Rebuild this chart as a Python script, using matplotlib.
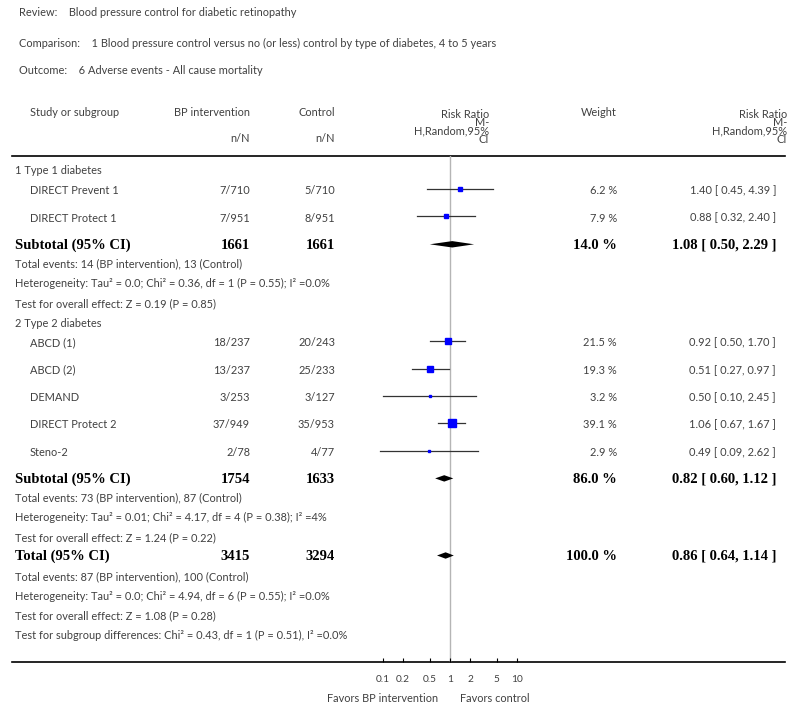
import numpy as np
import matplotlib.pyplot as plt

# datos del forest plot
review = 'Blood pressure control for diabetic retinopathy'
comparison = '1 Blood pressure control versus no (or less) control by type of diabetes, 4 to 5 years'
outcome = '6 Adverse events - All cause mortality'

groups = ['1 Type 1 diabetes', '2 Type 2 diabetes']
study_group = [0, 0, 1, 1, 1, 1, 1]
studies = ['DIRECT Prevent 1', 'DIRECT Protect 1', 'ABCD (1)', 'ABCD (2)',
           'DEMAND', 'DIRECT Protect 2', 'Steno-2']
bp_events = [7, 7, 18, 13, 3, 37, 2]
bp_total = [710, 951, 237, 237, 253, 949, 78]
ctrl_events = [5, 8, 20, 25, 3, 35, 4]
ctrl_total = [710, 951, 243, 233, 127, 953, 77]
weights = [6.2, 7.9, 21.5, 19.3, 3.2, 39.1, 2.9]
rr = [1.40, 0.88, 0.92, 0.51, 0.50, 1.06, 0.49]
rr_lo = [0.45, 0.32, 0.50, 0.27, 0.10, 0.67, 0.09]
rr_hi = [4.39, 2.40, 1.70, 0.97, 2.45, 1.67, 2.62]

sub_bp_total = [1661, 1754]
sub_ctrl_total = [1661, 1633]
sub_weight = [14.0, 86.0]
sub_rr = [1.08, 0.82]
sub_lo = [0.50, 0.60]
sub_hi = [2.29, 1.12]
sub_stats = [
    ['Total events: 14 (BP intervention), 13 (Control)',
     'Heterogeneity: Tau² = 0.0; Chi² = 0.36, df = 1 (P = 0.55); I² =0.0%',
     'Test for overall effect: Z = 0.19 (P = 0.85)'],
    ['Total events: 73 (BP intervention), 87 (Control)',
     'Heterogeneity: Tau² = 0.01; Chi² = 4.17, df = 4 (P = 0.38); I² =4%',
     'Test for overall effect: Z = 1.24 (P = 0.22)'],
]

tot_bp = 3415
tot_ctrl = 3294
tot_weight = 100.0
tot_rr, tot_lo, tot_hi = 0.86, 0.64, 1.14
tot_stats = ['Total events: 87 (BP intervention), 100 (Control)',
             'Heterogeneity: Tau² = 0.0; Chi² = 4.94, df = 6 (P = 0.55); I² =0.0%',
             'Test for overall effect: Z = 1.08 (P = 0.28)',
             'Test for subgroup differences: Chi² = 0.43, df = 1 (P = 0.51), I² =0.0%']

ticks = [0.1, 0.2, 0.5, 1, 2, 5, 10]
tick_labels = ['0.1', '0.2', '0.5', '1', '2', '5', '10']

# estilos
gris = '#404040'
sans = 'Lato'
serif = 'Liberation Serif'
fs = 7.9
fsb = 10.5

fig = plt.figure(figsize=(8, 7.09), dpi=100)
ax = fig.add_axes([0, 0, 1, 1])
ax.set_xlim(0, 800)
ax.set_ylim(709, 0)
ax.axis('off')

top_line, bot_line = 156, 662
decada = 67
ax_f = fig.add_axes([350 / 800, (709 - bot_line) / 709, 200 / 800, (bot_line - top_line) / 709])
ax_f.set_xscale('log')
ax_f.set_xlim(10 ** (-100 / decada), 10 ** (100 / decada))
ax_f.set_ylim(bot_line, top_line)
ax_f.patch.set_visible(False)
for s in ax_f.spines.values():
    s.set_visible(False)
ax_f.set_yticks([])
ax_f.set_xticks(ticks)
ax_f.set_xticklabels(tick_labels, fontfamily=sans, fontsize=7.3, color=gris)
ax_f.minorticks_off()
ax_f.tick_params(axis='x', direction='in', length=3, width=0.8, pad=9, color='black')
ax_f.axvline(1, color='#b5b5b5', lw=1, zorder=0)


def t(x, y, s, ha='left', bold=False, **kw):
    if bold:
        ax.text(x, y, s, ha=ha, va='center', fontfamily=serif, fontweight='bold',
                fontsize=fsb, color='black', **kw)
    else:
        ax.text(x, y, s, ha=ha, va='center', fontfamily=sans, fontsize=fs, color=gris, **kw)


# cabecera
t(19, 13, 'Review:    ' + review)
t(19, 43, 'Comparison:    ' + comparison)
t(19, 71, 'Outcome:    ' + outcome)

t(30, 113, 'Study or subgroup')
t(250, 113, 'BP intervention', ha='right')
t(335, 113, 'Control', ha='right')
t(250, 139, 'n/N', ha='right')
t(335, 139, 'n/N', ha='right')
t(617, 113, 'Weight', ha='right')
encabezado_rr = 'Risk Ratio\nM-\nH,Random,95%\nCI'
for xr in [489, 787]:
    ax.text(xr, 127, encabezado_rr, ha='right', va='center', multialignment='right',
            linespacing=0.72, fontfamily=sans, fontsize=fs, color=gris)

ax.axhline(top_line, xmin=12 / 800, xmax=785 / 800, color='black', lw=1.2)
ax.axhline(bot_line, xmin=12 / 800, xmax=785 / 800, color='black', lw=1.2)


def diamante(y, est, lo, hi, h):
    ax_f.fill([lo, est, hi, est], [y, y - h, y, y + h], color='black', lw=0)


# filas
y = 171
pasos = {'group': 19.7, 'study': 27.3, 'subtotal': 18.5, 'stat': 19.8, 'total': 20}
for g, gname in enumerate(groups):
    t(15, y, gname)
    y += pasos['group']
    idx = [i for i, sg in enumerate(study_group) if sg == g]
    for i in idx:
        t(30, y, studies[i])
        t(250, y, f'{bp_events[i]}/{bp_total[i]}', ha='right')
        t(335, y, f'{ctrl_events[i]}/{ctrl_total[i]}', ha='right')
        t(617, y, f'{weights[i]:.1f} %', ha='right')
        t(776, y, f'{rr[i]:.2f} [ {rr_lo[i]:.2f}, {rr_hi[i]:.2f} ]', ha='right')
        ym = y - 1.5
        ax_f.plot([rr_lo[i], rr_hi[i]], [ym, ym], color='#333333', lw=0.9, clip_on=False)
        ax_f.plot(rr[i], ym, 's', color='#0000ff', mec='#0000ff',
                  ms=0.9 * np.sqrt(weights[i]), clip_on=False)
        y += pasos['study']
    t(15, y, 'Subtotal (95% CI)', bold=True)
    t(250, y, str(sub_bp_total[g]), ha='right', bold=True)
    t(335, y, str(sub_ctrl_total[g]), ha='right', bold=True)
    t(617, y, f'{sub_weight[g]:.1f} %', ha='right', bold=True)
    t(776, y, f'{sub_rr[g]:.2f} [ {sub_lo[g]:.2f}, {sub_hi[g]:.2f} ]', ha='right', bold=True)
    diamante(y - 1, sub_rr[g], sub_lo[g], sub_hi[g], 3.2)
    y += pasos['subtotal']
    for line in sub_stats[g]:
        t(15, y, line)
        y += pasos['stat']

y -= pasos['stat'] - 19
t(15, y, 'Total (95% CI)', bold=True)
t(250, y, str(tot_bp), ha='right', bold=True)
t(335, y, str(tot_ctrl), ha='right', bold=True)
t(617, y, f'{tot_weight:.1f} %', ha='right', bold=True)
t(776, y, f'{tot_rr:.2f} [ {tot_lo:.2f}, {tot_hi:.2f} ]', ha='right', bold=True)
diamante(y - 1, tot_rr, tot_lo, tot_hi, 3.2)
y += pasos['total']
for line in tot_stats:
    t(15, y, line)
    y += pasos['stat']

t(438, 699, 'Favors BP intervention', ha='right')
t(460, 699, 'Favors control')

fig.savefig('out.png', dpi=100, facecolor='white')
